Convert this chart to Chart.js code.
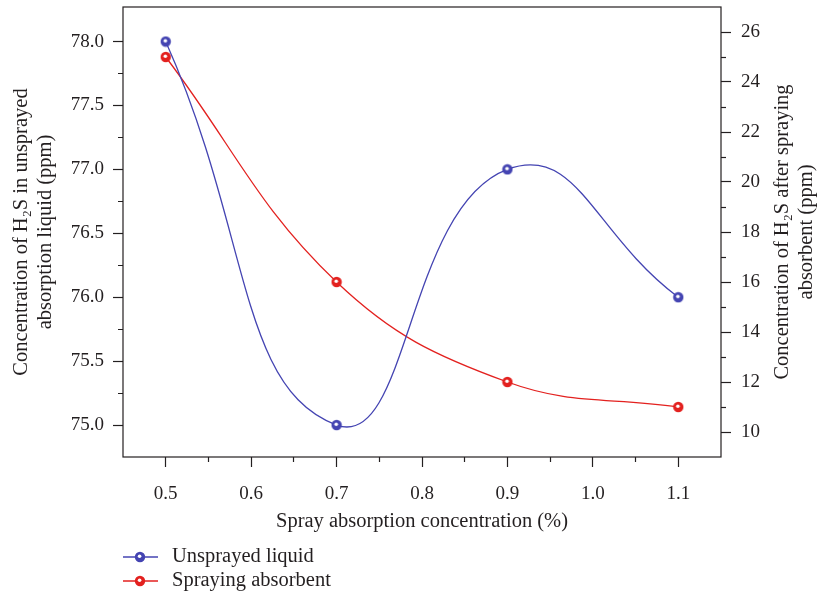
<!DOCTYPE html>
<html>
<head>
<meta charset="utf-8">
<script src="https://cdn.jsdelivr.net/npm/chart.js@4/dist/chart.umd.min.js"></script>
<style>
  html, body { margin: 0; padding: 0; background: #fff; }
  #wrap { width: 820px; height: 603px; position: relative; }
</style>
</head>
<body>
<div id="wrap"><canvas id="chart"></canvas></div>
<script>
// data
const concentration = [0.5, 0.7, 0.9, 1.1];
const unsprayed = [78.0, 75.0, 77.0, 76.0];      // left axis
const spraying = [25, 16, 12, 11];                // right axis
const seriesNames = ['Unsprayed liquid', 'Spraying absorbent'];
const xTitle = 'Spray absorption concentration (%)';
const leftTitle = ['Concentration of H\u2082S in unsprayed', 'absorption liquid (ppm)'];
const rightTitle = ['Concentration of H\u2082S after spraying', 'absorbent (ppm)'];

const BLUE = '#4444b2', RED = '#e3211f', INK = '#231f20';
const FONT = '"Liberation Serif", "Times New Roman", serif';
const TICK_SIZE = 19, TITLE_SIZE = 20.5;

// round marker with a little white highlight
function marker(color) {
  const c = document.createElement('canvas');
  c.width = 12; c.height = 12;
  const g = c.getContext('2d');
  g.fillStyle = color;
  g.beginPath(); g.arc(6, 6, 5.2, 0, Math.PI * 2); g.fill();
  g.fillStyle = '#fff';
  g.beginPath(); g.arc(5.6, 5.2, 1.8, 0, Math.PI * 2); g.fill();
  return c;
}

function isMajor(v, step) {
  const r = v / step;
  return Math.abs(r - Math.round(r)) < 1e-6;
}

// major ticks long, minor ticks half length (dash trick), none on the frame corners
function gridFor(step, min, max, side) {
  return {
    drawOnChartArea: false,
    drawTicks: true,
    tickLength: 10,
    tickWidth: 1.2,
    tickColor: ctx => {
      const v = ctx.tick.value;
      return (Math.abs(v - min) < 1e-6 || Math.abs(v - max) < 1e-6) ? 'rgba(0,0,0,0)' : INK;
    },
    tickBorderDash: ctx => isMajor(ctx.tick.value, step) ? [] : (side === 'left' ? [0, 5, 5, 100] : [5, 100])
  };
}

function noEdgePadding(s) {
  s.paddingTop = 0; s.paddingBottom = 0; s.paddingLeft = 0; s.paddingRight = 0;
}

const overlay = {
  id: 'overlay',
  afterDraw(chart) {
    const ctx = chart.ctx, a = chart.chartArea;
    ctx.save();
    ctx.strokeStyle = INK;
    ctx.lineWidth = 1.2;
    ctx.strokeRect(a.left, a.top, a.right - a.left, a.bottom - a.top);

    // right axis title reads bottom-to-top like the left one
    ctx.font = TITLE_SIZE + 'px ' + FONT;
    ctx.fillStyle = INK;
    ctx.textAlign = 'center';
    ctx.textBaseline = 'middle';
    ctx.save();
    ctx.translate(a.right + 62, (a.top + a.bottom) / 2);
    ctx.rotate(-Math.PI / 2);
    rightTitle.forEach((t, i) => ctx.fillText(t, 0, i * 24));
    ctx.restore();

    // legend under the chart
    ctx.textAlign = 'left';
    chart.data.datasets.forEach((ds, i) => {
      const y = 557 + i * 24;
      ctx.strokeStyle = ds.borderColor;
      ctx.lineWidth = 1.3;
      ctx.beginPath(); ctx.moveTo(123, y); ctx.lineTo(158, y); ctx.stroke();
      ctx.drawImage(ds.pointStyle, 140 - 6, y - 6);
      ctx.fillStyle = INK;
      ctx.fillText(ds.label, 172, y);
    });
    ctx.restore();
  }
};

const chart = new Chart(document.getElementById('chart'), {
  type: 'line',
  data: {
    datasets: [
      {
        label: seriesNames[0],
        data: concentration.map((x, i) => ({ x: x, y: unsprayed[i] })),
        yAxisID: 'y',
        borderColor: BLUE,
        backgroundColor: BLUE,
        borderWidth: 1.3,
        tension: 0.5,
        pointStyle: marker(BLUE)
      },
      {
        label: seriesNames[1],
        data: concentration.map((x, i) => ({ x: x, y: spraying[i] })),
        yAxisID: 'y1',
        borderColor: RED,
        backgroundColor: RED,
        borderWidth: 1.3,
        tension: 0.4,
        pointStyle: marker(RED)
      }
    ]
  },
  options: {
    responsive: true,
    maintainAspectRatio: false,
    animation: false,
    layout: { padding: { top: 7, left: 0, right: 0, bottom: 69 } },
    plugins: {
      legend: { display: false },
      tooltip: { enabled: false }
    },
    scales: {
      x: {
        type: 'linear',
        position: 'bottom',
        min: 0.45,
        max: 1.15,
        border: { display: false },
        grid: gridFor(0.1, 0.45, 1.15, 'bottom'),
        ticks: {
          stepSize: 0.05,
          autoSkip: false,
          maxRotation: 0,
          padding: 16,
          color: INK,
          font: { family: FONT, size: TICK_SIZE },
          callback: v => isMajor(v, 0.1) ? v.toFixed(1) : ''
        },
        title: {
          display: true,
          text: xTitle,
          color: INK,
          font: { family: FONT, size: TITLE_SIZE },
          padding: { top: 0, bottom: 0 }
        },
        afterFit: s => { s.height = 77; noEdgePadding(s); }
      },
      y: {
        position: 'left',
        min: 74.75,
        max: 78.27,
        border: { display: false },
        grid: gridFor(0.5, 74.75, 78.27, 'left'),
        ticks: {
          stepSize: 0.25,
          autoSkip: false,
          padding: 9,
          color: INK,
          font: { family: FONT, size: TICK_SIZE },
          callback: v => isMajor(v, 0.5) ? v.toFixed(1) : ''
        },
        title: {
          display: true,
          text: leftTitle,
          color: INK,
          font: { family: FONT, size: TITLE_SIZE, lineHeight: 1.17 },
          padding: { top: 10, bottom: 0 }
        },
        afterFit: s => { s.width = 123; noEdgePadding(s); }
      },
      y1: {
        position: 'right',
        min: 9,
        max: 27,
        border: { display: false },
        grid: gridFor(2, 9, 27, 'right'),
        ticks: {
          stepSize: 1,
          autoSkip: false,
          padding: 10,
          color: INK,
          font: { family: FONT, size: TICK_SIZE },
          callback: v => isMajor(v, 2) ? String(v) : ''
        },
        afterFit: s => { s.width = 99; noEdgePadding(s); }
      }
    }
  },
  plugins: [overlay]
});
</script>
</body>
</html>
